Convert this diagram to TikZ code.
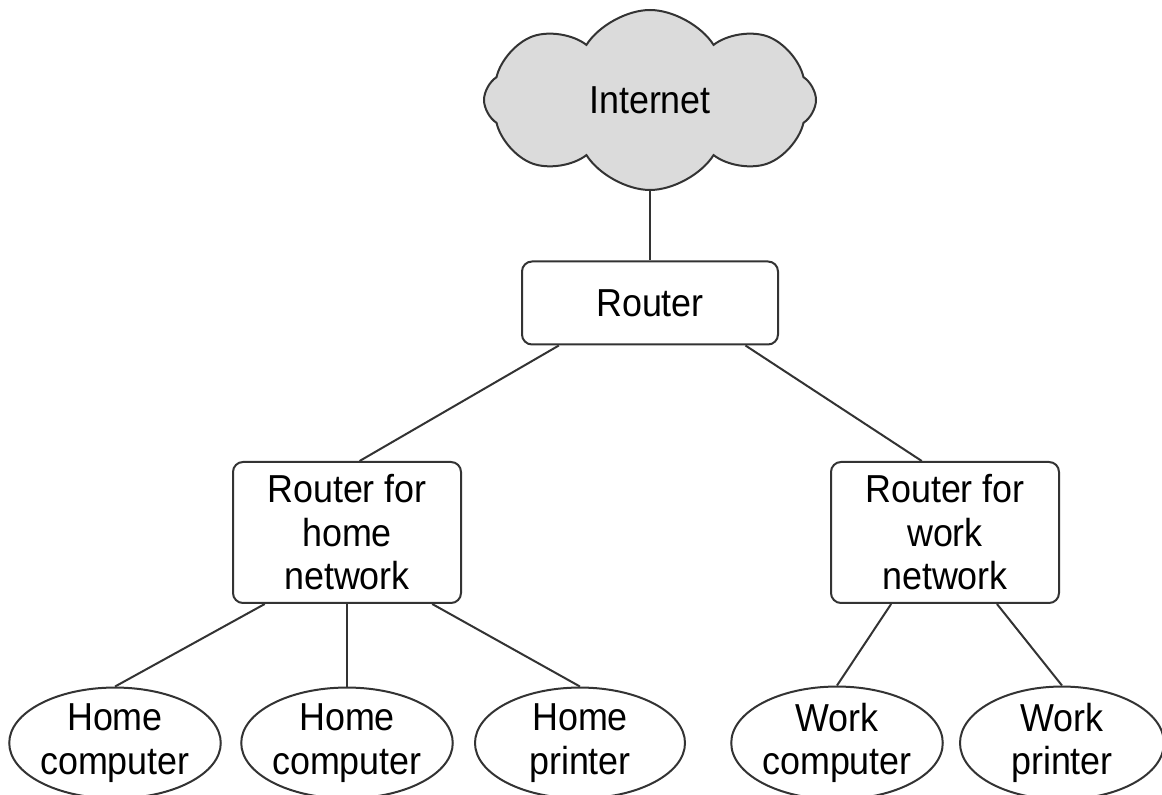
\documentclass[tikz,border=0pt]{standalone}
\usepackage{fontspec}
\setmainfont{Liberation Sans}[FakeStretch=0.92]
\usetikzlibrary{shapes.symbols,shapes.geometric}

\tikzset{
  link/.style={draw=black!80, line width=1pt},
  netcloud/.style={cloud, cloud puffs=8, cloud puff arc=115, cloud ignores aspect,
    draw=black!80, line width=1pt, fill=black!14, minimum width=166pt, minimum height=90pt,
    inner sep=0pt},
  routerbox/.style={rectangle, draw=black!80, line width=1pt, rounded corners=5pt,
    align=center, inner sep=0pt},
  device/.style={ellipse, draw=black!80, line width=1pt, minimum width=105pt,
    minimum height=54pt, inner sep=0pt, align=center}
}

\begin{document}
\begin{tikzpicture}[x=0.5pt, y=-0.5pt, font={\fontsize{19.5pt}{21.75pt}\selectfont}]
        \useasboundingbox (0,0) rectangle (1162,795);

        \node[netcloud] (internet) at (650,100) {Internet};
        \node[routerbox, minimum width=128pt, minimum height=41.5pt] (router) at (650,303) {Router};
        \node[routerbox, minimum width=114pt, minimum height=70.5pt] (homerouter) at (347,532.5) {Router for\\home\\network};
        \node[routerbox, minimum width=114pt, minimum height=70.5pt] (workrouter) at (945,532.5) {Router for\\work\\network};

        \node[device] (homepc1) at (115,743) {Home\\computer};
        \node[device] (homepc2) at (347,743) {Home\\computer};
        \node[device] (homeprinter) at (580,743) {Home\\printer};
        \node[device] (workpc) at (837,743) {Work\\computer};
        \node[device, minimum width=102pt] (workprinter) at (1062,743) {Work\\printer};

        \draw[link] (internet.south) -- (router.north);
        \draw[link] (router.-155.9) -- (homerouter.80.3);
        \draw[link] (router.-24.1) -- (workrouter.108.8);

        \draw[link] (homerouter.-139.3) -- (homepc1.north);
        \draw[link] (homerouter.south) -- (homepc2.north);
        \draw[link] (homerouter.-40.9) -- (homeprinter.north);
        \draw[link] (workrouter.-127.5) -- (workpc.north);
        \draw[link] (workrouter.-54.1) -- (workprinter.north);
    \end{tikzpicture}
\end{document}
